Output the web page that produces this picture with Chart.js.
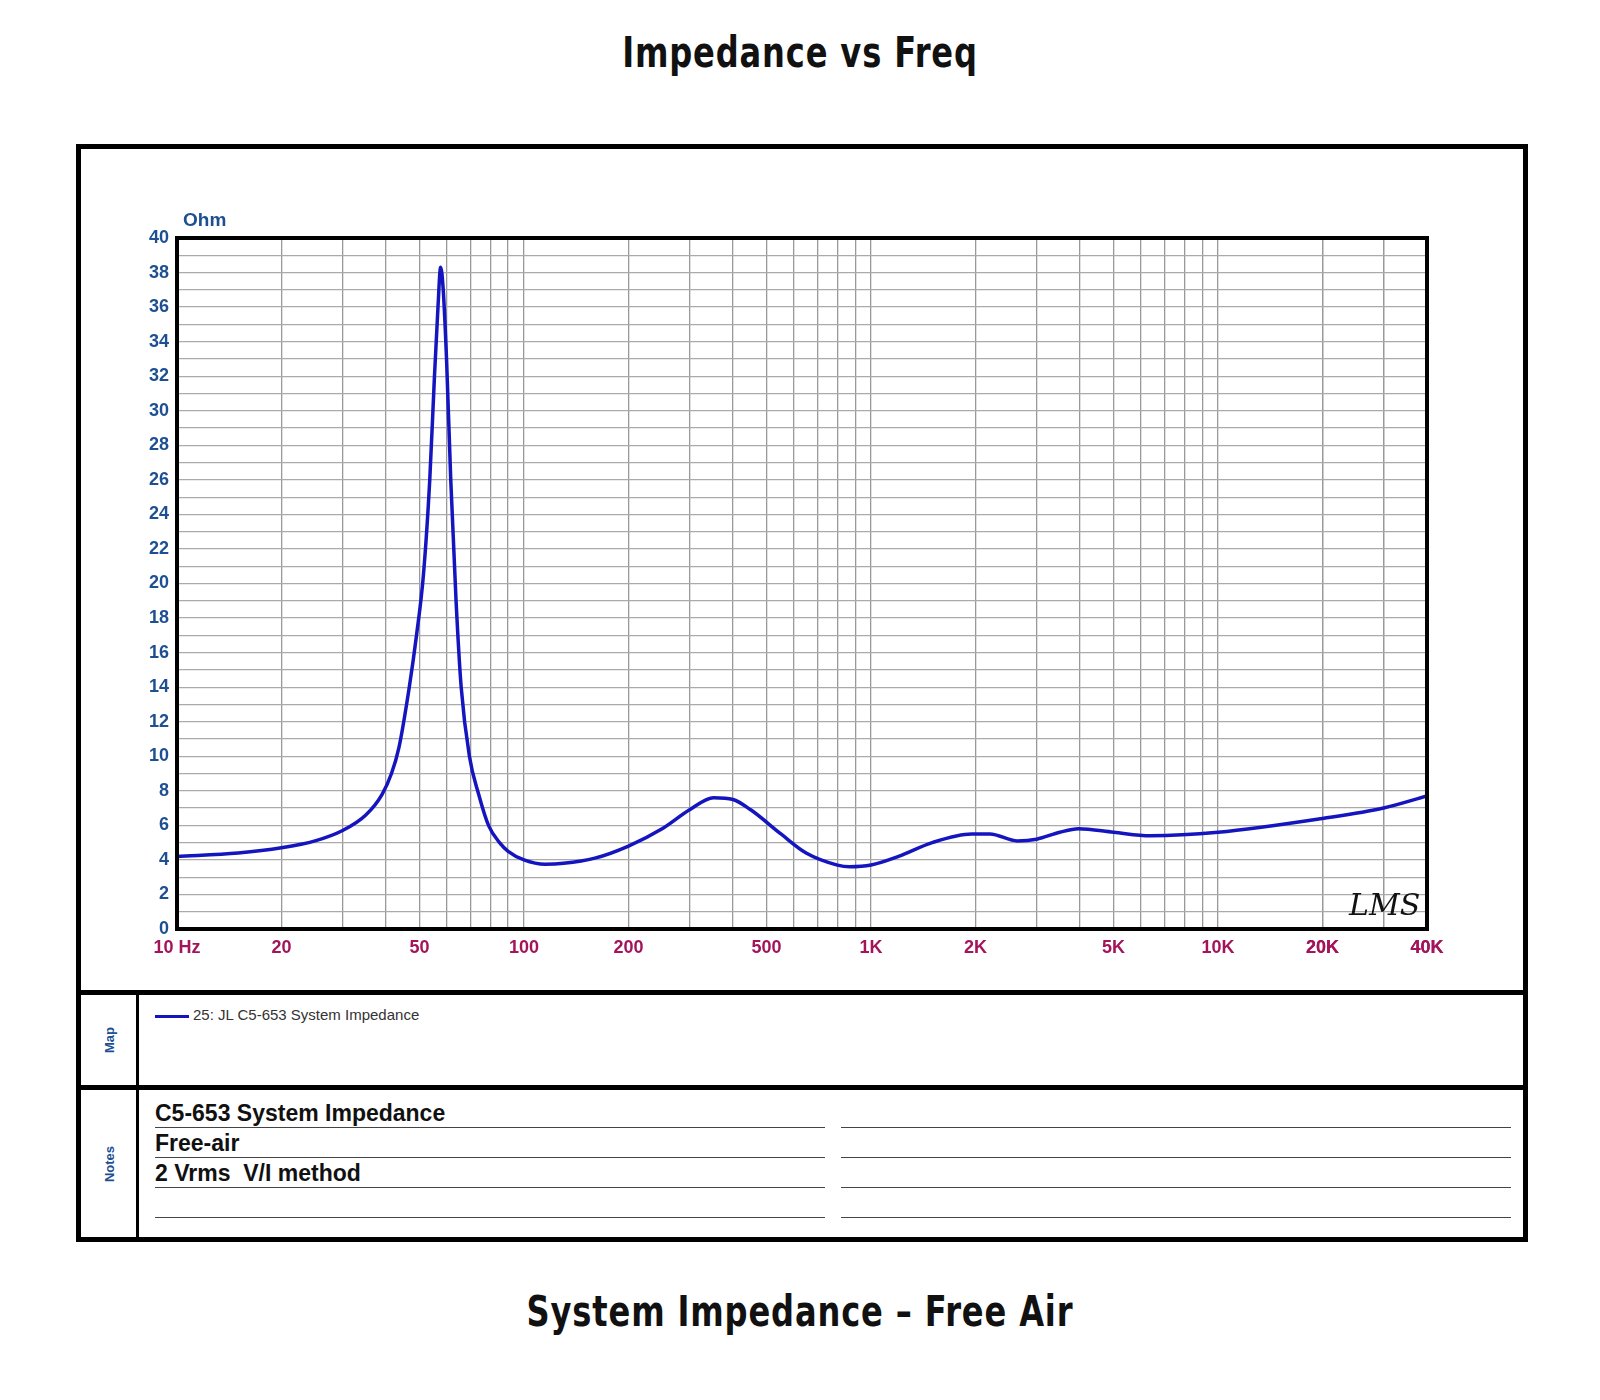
<!DOCTYPE html>
<html>
<head>
<meta charset="utf-8">
<script src="https://cdn.jsdelivr.net/npm/chart.js@4/dist/chart.umd.min.js"></script>
<style>
  body { margin:0; width:1600px; height:1400px; background:#fff; position:relative; font-family:"Liberation Sans", Arial, sans-serif; }
  .title { position:absolute; left:0; width:1600px; text-align:center; font-family:"DejaVu Sans Condensed", sans-serif; font-weight:bold; font-size:42px; letter-spacing:1px; transform:scaleX(0.85); color:#111; }
  #frame { position:absolute; left:76px; top:144px; width:1442px; height:1088px; border:5px solid #000; }
  #wrap { position:absolute; left:0; top:0; width:1442px; height:841px; }
  .row { position:absolute; left:0; width:1442px; border-top:5px solid #000; }
  .side { position:absolute; left:0; top:0; bottom:0; width:55px; border-right:3px solid #000; }
  .side span { position:absolute; left:50%; top:50%; transform:translate(-50%,-50%) rotate(-90deg); color:#1d4f91; font-weight:bold; font-size:13px; }
  .note { position:absolute; height:29px; border-bottom:1px solid #444; font-weight:bold; font-size:23px; color:#111; line-height:30px; }
</style>
</head>
<body>
<div class="title" style="top:28px">Impedance vs Freq</div>
<div id="frame">
  <div id="wrap"><canvas id="myChart"></canvas></div>
  <div class="row" style="top:841px;height:90px">
    <div class="side"><span>Map</span></div>
    <div style="position:absolute;left:74px;top:20px;width:34px;border-top:3px solid #1515c0"></div>
    <div style="position:absolute;left:112px;top:11px;font-size:15px;color:#333">25: JL C5-653 System Impedance</div>
  </div>
  <div class="row" style="top:936px;height:147px">
    <div class="side"><span>Notes</span></div>
    <div class="note" style="left:74px;top:8px;width:670px">C5-653 System Impedance</div>
    <div class="note" style="left:74px;top:38px;width:670px">Free-air</div>
    <div class="note" style="left:74px;top:68px;width:670px">2 Vrms&nbsp; V/I method</div>
    <div class="note" style="left:74px;top:98px;width:670px"></div>
    <div class="note" style="left:760px;top:8px;width:670px"></div>
    <div class="note" style="left:760px;top:38px;width:670px"></div>
    <div class="note" style="left:760px;top:68px;width:670px"></div>
    <div class="note" style="left:760px;top:98px;width:670px"></div>
  </div>
</div>
<div class="title" style="top:1287px">System Impedance – Free Air</div>
<script>
const freqs = [10,15,20,25,30,35,39,41.5,43.6,46.7,49,51.3,53.5,55.2,56.5,57.5,58.5,59.8,61.5,63.7,65.9,69.6,74,79,85,90,100,115,130,160,200,250,300,352,400,450,550,650,800,867,1000,1200,1500,1950,2200,2640,3000,3500,3960,5000,6370,10000,20000,30000,40000];
const ohms  = [4.2,4.4,4.7,5.1,5.7,6.6,7.8,9,10.5,14,17,20.5,26,32,36,38.3,37,33,26,19,14,10,7.8,6,5,4.5,4.0,3.75,3.8,4.1,4.8,5.8,6.9,7.6,7.5,6.9,5.5,4.4,3.7,3.6,3.7,4.2,5.0,5.5,5.5,5.1,5.2,5.6,5.8,5.6,5.4,5.6,6.4,7.0,7.7];
const tickLabels = {10:'10 Hz',20:'20',50:'50',100:'100',200:'200',500:'500',1000:'1K',2000:'2K',5000:'5K',10000:'10K',20000:'20K',40000:'40K'};

const extras = {
  id:'extras',
  afterDraw(chart){
    const c = chart.ctx, a = chart.chartArea;
    c.save();
    c.strokeStyle = '#000'; c.lineWidth = 4;
    c.strokeRect(a.left, a.top, a.right - a.left, a.bottom - a.top);
    c.fillStyle = '#1d4f91'; c.font = 'bold 19px "Liberation Sans"';
    c.fillText('Ohm', a.left + 6, a.top - 12);
    c.fillStyle = '#111'; c.font = 'italic 30px "DejaVu Serif"';
    c.fillText('LMS', a.right - 78, a.bottom - 14);
    c.restore();
  }
};

new Chart(document.getElementById('myChart'), {
  type:'line',
  plugins:[extras],
  data:{ datasets:[{ data: freqs.map((f,i)=>({x:f,y:ohms[i]})), borderColor:'#1515c0', borderWidth:3.5, pointRadius:0, tension:0.4, cubicInterpolationMode:'monotone' }] },
  options:{
    responsive:true, maintainAspectRatio:false, animation:false,
    layout:{ padding:{ top:89, right:96, left:0, bottom:0 } },
    plugins:{ legend:{display:false}, tooltip:{enabled:false} },
    scales:{
      x:{
        type:'logarithmic', min:10, max:40000,
        afterBuildTicks(s){
          const t = [];
          for (let d = 10; d <= 10000; d *= 10) for (let m = 1; m <= 9; m++) if (d*m <= 40000) t.push({value:d*m});
          t.push({value:20000},{value:30000},{value:40000});
          s.ticks = t;
        },
        afterFit(s){ s.height = 61; },
        grid:{ color:'#999', lineWidth:1.3, drawTicks:false },
        border:{ display:false },
        ticks:{ autoSkip:false, maxRotation:0, padding:8, color:'#a3145a', font:{ family:'"Liberation Sans"', weight:'bold', size:18 },
          callback:(v)=> tickLabels[v] || '' }
      },
      y:{
        min:0, max:40,
        afterFit(s){ s.width = 96; },
        afterBuildTicks(s){ const t=[]; for (let i=0;i<=40;i++) t.push({value:i}); s.ticks=t; },
        grid:{ color:'#aaa', lineWidth:1.2, drawTicks:false },
        border:{ display:false },
        ticks:{ autoSkip:false, padding:8, color:'#1d4f91', font:{ family:'"Liberation Sans"', weight:'bold', size:18 },
          callback:(v)=> v % 2 === 0 ? v : '' }
      }
    }
  }
});
</script>
</body>
</html>
